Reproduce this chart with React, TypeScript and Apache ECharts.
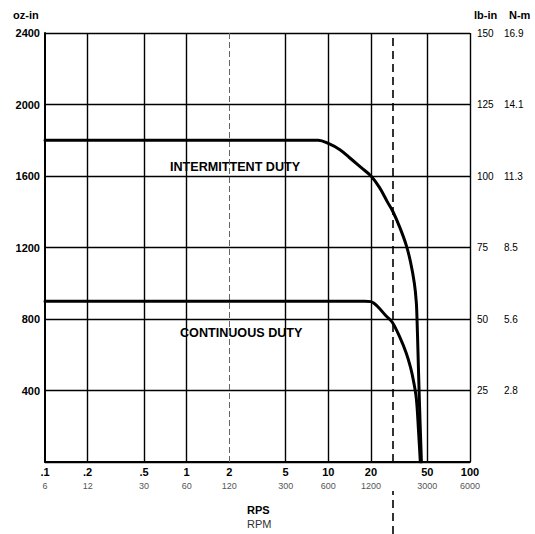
import React, { useEffect, useRef } from 'react';
import * as echarts from 'echarts';

// X axis (log scale): RPS ticks and their RPM equivalents
const rpsTicks = [0.1, 0.2, 0.5, 1, 2, 5, 10, 20, 50, 100];
const rpsLabels = ['.1', '.2', '.5', '1', '2', '5', '10', '20', '50', '100'];
const rpmLabels = ['6', '12', '30', '60', '120', '300', '600', '1200', '3000', '6000'];

// Left axis (oz-in)
const ozInMin = 0;
const ozInMax = 2400;
const ozInStep = 400;

// Right axis labels (lb-in and N-m) at oz-in 400, 800, ... 2400
const rightTickOzIn = [400, 800, 1200, 1600, 2000, 2400];
const lbInLabels = ['25', '50', '75', '100', '125', '150'];
const nmLabels = ['2.8', '5.6', '8.5', '11.3', '14.1', '16.9'];

// Intermittent duty curve
const intermittentRps = [0.1, 8.5, 10, 12, 14, 17, 20, 23, 26, 28.6, 32, 35.5, 38, 40.5, 41.8, 42.3, 42.9, 43.9, 45.4];
const intermittentOzIn = [1800, 1800, 1782, 1748, 1705, 1648, 1600, 1535, 1458, 1400, 1311, 1212, 1120, 999, 892, 790, 627, 347, 0];

// Continuous duty curve
const continuousRps = [0.1, 18, 20, 21, 22.8, 25.5, 28.2, 32, 35.5, 38, 39.8, 41.8, 43.2, 44.6];
const continuousOzIn = [900, 900, 897, 888, 862, 818, 783, 697, 609, 531, 459, 355, 190, 0];

// Dashed reference speed
const markerRps = 28.6;

const FONT = "'Liberation Sans Narrow', 'Liberation Sans', Arial, sans-serif";

export default function App() {
  const ref = useRef<HTMLDivElement>(null);

  useEffect(() => {
    if (!ref.current) return;
    const chart = echarts.init(ref.current, undefined, { renderer: 'svg' });

    const tickIndex = (v: number) => {
      let best = 0;
      let bd = Infinity;
      rpsTicks.forEach((t, i) => {
        const d = Math.abs(Math.log10(t) - Math.log10(v));
        if (d < bd) { bd = d; best = i; }
      });
      return best;
    };

    const gridLineData = rpsTicks.slice(1).map((t) => ({
      xAxis: t,
      lineStyle: t === 2
        ? { color: '#666', width: 1, type: [6, 3] as any }
        : { color: '#000', width: 1.4, type: 'solid' as any },
    }));

    const option: any = {
      animation: false,
      backgroundColor: '#fff',
      textStyle: { fontFamily: FONT },
      grid: [
        { left: 45, right: 65, top: 33, bottom: 72 },
        { left: 45, right: 65, top: 491, bottom: 0 },
      ],
      xAxis: [
        {
          type: 'log',
          logBase: 10,
          min: 0.1,
          max: 100,
          gridIndex: 0,
          axisLine: { show: true, lineStyle: { color: '#000', width: 2 } },
          axisTick: { show: false },
          splitLine: { show: false },
          minorTick: { show: false },
          axisLabel: {
            customValues: rpsTicks,
            showMinLabel: true,
            showMaxLabel: true,
            hideOverlap: false,
            margin: 3,
            formatter: (v: number) => {
              const i = tickIndex(v);
              return `{a|${rpsLabels[i]}}\n{b|${rpmLabels[i]}}`;
            },
            rich: {
              a: { fontFamily: FONT, fontSize: 11, fontWeight: 'bold', color: '#000', lineHeight: 14, align: 'center' },
              b: { fontFamily: FONT, fontSize: 9, color: '#555', lineHeight: 13, align: 'center' },
            },
          },
        },
        {
          type: 'log',
          logBase: 10,
          min: 0.1,
          max: 100,
          gridIndex: 1,
          show: false,
        },
      ],
      yAxis: [
        {
          type: 'value',
          gridIndex: 0,
          min: ozInMin,
          max: ozInMax,
          interval: ozInStep,
          position: 'left',
          axisLine: { show: true, lineStyle: { color: '#000', width: 2 } },
          axisTick: { show: false },
          splitLine: { show: true, lineStyle: { color: '#000', width: 1.4 } },
          axisLabel: {
            margin: 5,
            fontFamily: FONT,
            fontSize: 11,
            fontWeight: 'bold',
            color: '#000',
            formatter: (v: number) => (v === 0 ? '' : String(v)),
          },
        },
        {
          type: 'value',
          gridIndex: 0,
          min: ozInMin,
          max: ozInMax,
          interval: ozInStep,
          position: 'right',
          axisLine: { show: false },
          axisTick: { show: false },
          splitLine: { show: false },
          axisLabel: {
            margin: 7,
            formatter: (v: number) => {
              const i = rightTickOzIn.indexOf(v);
              if (i < 0) return '';
              return `{a|${lbInLabels[i]}}{b|${nmLabels[i]}}`;
            },
            rich: {
              a: { fontFamily: FONT, fontSize: 10, color: '#000', width: 27, align: 'left' },
              b: { fontFamily: FONT, fontSize: 10, color: '#000', align: 'left' },
            },
          },
        },
        {
          type: 'value',
          gridIndex: 1,
          min: 0,
          max: 1,
          show: false,
        },
      ],
      graphic: [
        { type: 'text', left: 13, top: 9, style: { text: 'oz-in', font: `bold 11px ${FONT}`, fill: '#000' } },
        { type: 'text', left: 474, top: 9, style: { text: 'lb-in', font: `bold 11px ${FONT}`, fill: '#000' } },
        { type: 'text', left: 509, top: 9, style: { text: 'N-m', font: `bold 11px ${FONT}`, fill: '#000' } },
        { type: 'text', left: 247, top: 504, style: { text: 'RPS', font: `bold 11px ${FONT}`, fill: '#000' } },
        { type: 'text', left: 247, top: 518, style: { text: 'RPM', font: `11px ${FONT}`, fill: '#333' } },
        { type: 'text', left: 170, top: 160, style: { text: 'INTERMITTENT DUTY', font: `bold 12.6px ${FONT}`, fill: '#000' } },
        { type: 'text', left: 180, top: 326, style: { text: 'CONTINUOUS DUTY', font: `bold 12.6px ${FONT}`, fill: '#000' } },
      ],
      series: [
        {
          name: 'grid-verticals',
          type: 'line',
          xAxisIndex: 0,
          yAxisIndex: 0,
          data: [],
          silent: true,
          z: 1,
          markLine: {
            silent: true,
            symbol: ['none', 'none'],
            label: { show: false },
            data: gridLineData,
          },
        },
        {
          name: 'marker',
          type: 'line',
          xAxisIndex: 0,
          yAxisIndex: 0,
          data: [],
          silent: true,
          z: 2,
          markLine: {
            silent: true,
            symbol: ['none', 'none'],
            label: { show: false },
            lineStyle: { color: '#000', width: 1.6, type: [8, 5] },
            data: [{ xAxis: markerRps }],
          },
        },
        {
          name: 'marker-below',
          type: 'line',
          xAxisIndex: 1,
          yAxisIndex: 2,
          data: [],
          silent: true,
          markLine: {
            silent: true,
            symbol: ['none', 'none'],
            label: { show: false },
            lineStyle: { color: '#000', width: 1.6, type: [8, 5] },
            data: [{ xAxis: markerRps }],
          },
        },
        {
          name: 'Intermittent duty',
          type: 'line',
          xAxisIndex: 0,
          yAxisIndex: 0,
          showSymbol: false,
          symbol: 'none',
          smooth: 0.35,
          z: 5,
          lineStyle: { color: '#000', width: 3, join: 'round', cap: 'round' },
          data: intermittentRps.map((x, i) => [x, intermittentOzIn[i]]),
        },
        {
          name: 'Continuous duty',
          type: 'line',
          xAxisIndex: 0,
          yAxisIndex: 0,
          showSymbol: false,
          symbol: 'none',
          smooth: 0.35,
          z: 5,
          lineStyle: { color: '#000', width: 3, join: 'round', cap: 'round' },
          data: continuousRps.map((x, i) => [x, continuousOzIn[i]]),
        },
      ],
    };

    chart.setOption(option);
    return () => chart.dispose();
  }, []);

  return (
    <div
      ref={ref}
      style={{ position: 'fixed', left: 0, top: 0, width: 535, height: 534, background: '#fff' }}
    />
  );
}
